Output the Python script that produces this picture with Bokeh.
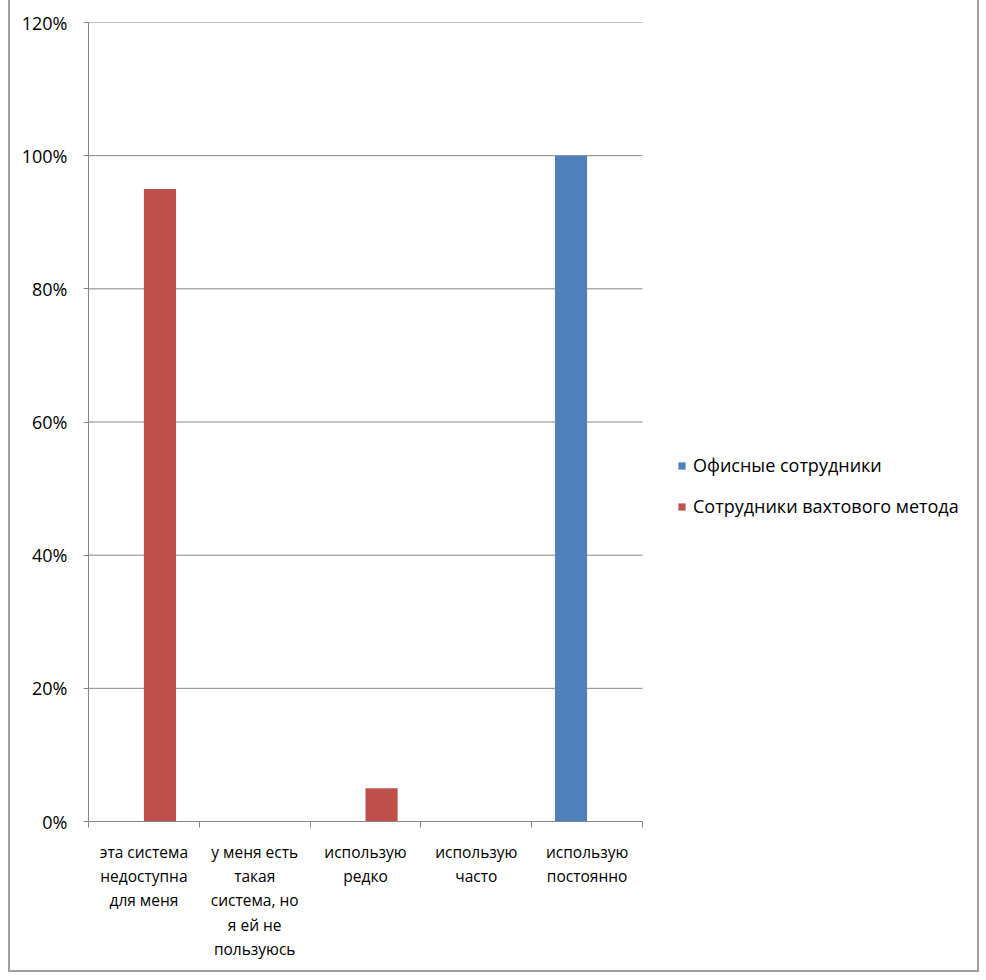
from bokeh.plotting import figure
from bokeh.models import (ColumnDataSource, Range1d, LinearAxis, CustomJSTickFormatter,
                          FixedTicker, NumeralTickFormatter, Legend, LegendItem)
from bokeh.transform import dodge
from bokeh.embed import file_html
from bokeh.resources import INLINE

categories = ["эта система недоступна для меня",
              "у меня есть такая система, но я ей не пользуюсь",
              "использую редко",
              "использую часто",
              "использую постоянно"]
tick_labels = ["эта система\nнедоступна\nдля меня",
               "у меня есть\nтакая\nсистема, но\nя ей не\nпользуюсь",
               "использую\nредко",
               "использую\nчасто",
               "использую\nпостоянно"]
office = [0.0, 0.0, 0.0, 0.0, 1.00]
shift = [0.95, 0.0, 0.05, 0.0, 0.0]
series_names = ["Офисные сотрудники", "Сотрудники вахтового метода"]
y_ticks = [0, 0.2, 0.4, 0.6, 0.8, 1.0, 1.2]

BLUE = "#4F81BD"
RED = "#C0504D"
GREY = "#868686"
FONT = "Open Sans"

n = len(categories)
centers = [i + 0.5 for i in range(n)]
src = ColumnDataSource(dict(cat=categories, x=centers, office=office, shift=shift))
grid_src = ColumnDataSource(dict(y=y_ticks, x0=[0] * len(y_ticks), x1=[n] * len(y_ticks)))

# plotting area is 554 px wide for the categories; the frame is extended to the right
# so that the legend can sit inside it
FRAME_W = 893
CAT_W = 554

p = figure(width=971, height=972,
           x_range=Range1d(0, n * FRAME_W / CAT_W),
           y_range=Range1d(0, 1.2),
           x_axis_type=None, y_axis_type=None,
           output_backend="svg", toolbar_location=None,
           min_border_left=78, min_border_right=0,
           min_border_top=22, min_border_bottom=151)
p.outline_line_color = None
p.background_fill_color = "white"
p.border_fill_color = "white"
p.xgrid.visible = False
p.ygrid.visible = False
p.styles = {"margin-left": "8px",
            "border-left": "2px solid #a0a0a0",
            "border-right": "2px solid #a0a0a0",
            "border-bottom": "2px solid #a0a0a0"}

# horizontal gridlines only across the category area
p.segment(x0="x0", x1="x1", y0="y", y1="y", source=grid_src, line_color=GREY, line_width=1)

# y axis
yaxis = LinearAxis(ticker=FixedTicker(ticks=y_ticks, minor_ticks=[]),
                   formatter=NumeralTickFormatter(format="0%"))
yaxis.major_tick_in = 0
yaxis.major_tick_out = 5
yaxis.minor_tick_out = 0
yaxis.axis_line_color = GREY
yaxis.major_tick_line_color = GREY
yaxis.major_label_standoff = 16
yaxis.major_label_text_font = FONT
yaxis.major_label_text_font_size = "18px"
yaxis.major_label_text_color = "black"
p.add_layout(yaxis, "left")

# x axis line with ticks at the category boundaries
tick_axis = LinearAxis(ticker=FixedTicker(ticks=list(range(n + 1)), minor_ticks=[]),
                       bounds=(0, n))
tick_axis.major_tick_in = 0
tick_axis.major_tick_out = 6
tick_axis.minor_tick_out = 0
tick_axis.major_label_text_font_size = "1px"
tick_axis.major_label_text_color = None
tick_axis.major_label_standoff = 0
tick_axis.axis_line_color = GREY
tick_axis.major_tick_line_color = GREY
p.add_layout(tick_axis, "below")

# category labels centred under each category
label_axis = LinearAxis(ticker=FixedTicker(ticks=centers, minor_ticks=[]),
                        formatter=CustomJSTickFormatter(args=dict(labels=tick_labels),
                                                        code="return labels[Math.floor(tick)];"))
label_axis.axis_line_color = None
label_axis.major_tick_line_color = None
label_axis.minor_tick_line_color = None
label_axis.major_tick_out = 0
label_axis.major_tick_in = 0
label_axis.minor_tick_out = 0
label_axis.major_label_standoff = 13
label_axis.major_label_text_font = FONT
label_axis.major_label_text_font_size = "15.5px"
label_axis.major_label_text_line_height = 1.11
label_axis.major_label_text_color = "black"
p.add_layout(label_axis, "below")

r1 = p.vbar(x=dodge("x", -0.145), top="office", width=0.29,
            source=src, fill_color=BLUE, line_color=None)
r2 = p.vbar(x=dodge("x", 0.145), top="shift", width=0.29,
            source=src, fill_color=RED, line_color=None)

legend = Legend(items=[LegendItem(label=series_names[0], renderers=[r1]),
                       LegendItem(label=series_names[1], renderers=[r2])],
                location=(589, 303))
legend.border_line_color = None
legend.background_fill_alpha = 0
legend.padding = 0
legend.margin = 0
legend.spacing = 17
legend.label_height = 20
legend.glyph_height = 9
legend.glyph_width = 9
legend.label_standoff = 7
legend.label_text_font = FONT
legend.label_text_font_size = "18px"
legend.label_text_color = "black"
p.add_layout(legend)

open("out.html", "w").write(file_html(p, INLINE))
